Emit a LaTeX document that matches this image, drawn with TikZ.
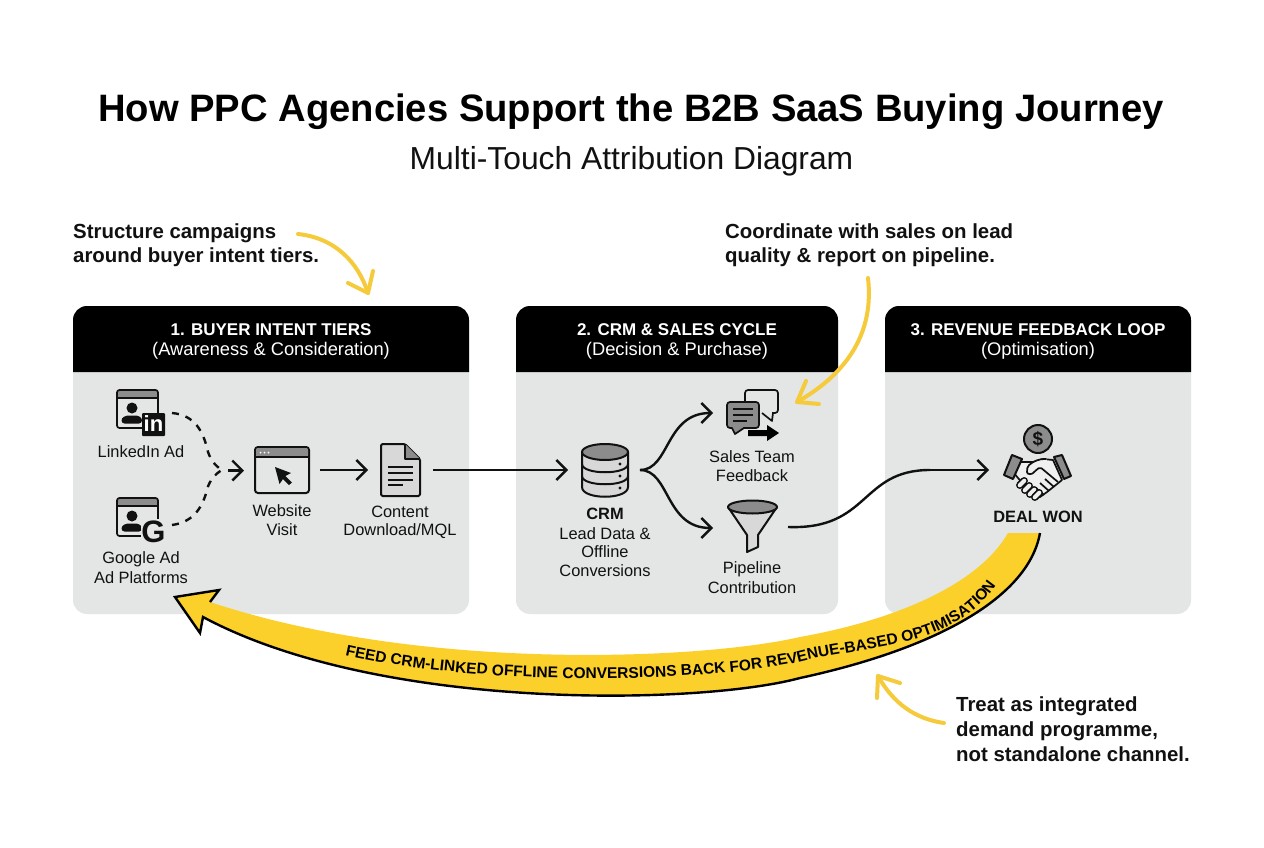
\documentclass[tikz,border=0pt]{standalone}
\usepackage{fontspec}
\setmainfont{Liberation Sans}
\usetikzlibrary{arrows.meta,decorations.text,calc}
\definecolor{panelgray}{HTML}{E4E5E5}
\definecolor{bandyellow}{HTML}{FBD02B}
\definecolor{noteyellow}{HTML}{F5CB3C}
\definecolor{icongray}{HTML}{8C8C8C}
\definecolor{iconlight}{HTML}{D8D8D8}
\definecolor{inkblack}{HTML}{111111}
\definecolor{handfill}{HTML}{F0F0F0}
\tikzset{
  fs/.style={font=\fontsize{#1}{#1}\selectfont},
  fsb/.style={font=\fontsize{#1}{#1}\selectfont\bfseries},
  panelbox/.style={fill=panelgray,rounded corners=14pt,inner sep=0pt},
  headbar/.style={fill=black,rounded corners=14pt},
  headone/.style={text=white,fsb=17,inner sep=0pt},
  headtwo/.style={text=white,fs=18.3,inner sep=0pt},
  lbl/.style={fs=16.4,text=inkblack,inner sep=0pt,align=center},
  note/.style={fsb=20.4,text=inkblack,inner sep=0pt,anchor=west},
  flow/.style={line width=2.4pt,inkblack,-{Straight Barb[length=10pt,width=20pt,line width=2.4pt]}},
  plain/.style={line width=2.4pt,inkblack},
  dashflow/.style={line width=2.4pt,inkblack,dash pattern=on 7pt off 7pt},
  noteflow/.style={line width=4pt,noteyellow,line cap=round,line join=round},
  icon/.style={line width=1.7pt,inkblack,line join=round},
}
\newcommand{\adwindow}[2]{%
  \begin{scope}[shift={(#1,#2)}]
    \fill[icongray,rounded corners=2pt] (0,0) rectangle (41,8);
    \draw[icon,rounded corners=2.5pt] (0,0) rectangle (41,38);
    \draw[icon] (0,8) -- (41,8);
    \fill[inkblack] (15,18) circle (5.5);
    \fill[inkblack,rounded corners=3pt] (4.5,33.5) .. controls (4.5,27) and (9,25.5) .. (15,25.5) .. controls (21,25.5) and (25,27) .. (25,33.5) -- cycle;
  \end{scope}}
\begin{document}
\begin{tikzpicture}[x=1pt,y=-1pt]
\useasboundingbox (0,0) rectangle (1264,848);
\fill[white] (0,0) rectangle (1264,848);
% title
\node[fsb=38.2,text=black,inner sep=0pt] (title) at (631,112) {How PPC Agencies Support the B2B SaaS Buying Journey};
\node[fs=31.8,text=inkblack,inner sep=0pt] (subtitle) at (631.5,161) {Multi-Touch Attribution Diagram};
% panels
\node[panelbox,minimum width=396pt,minimum height=308pt] (p1) at (271,460) {};
\node[panelbox,minimum width=322pt,minimum height=308pt] (p2) at (677,460) {};
\node[panelbox,minimum width=306pt,minimum height=308pt] (p3) at (1038,460) {};
\fill[headbar] (73,372) [rounded corners=14pt] -- (73,306) -- (469,306) [sharp corners] -- (469,372) -- cycle;
\fill[headbar] (516,372) [rounded corners=14pt] -- (516,306) -- (838,306) [sharp corners] -- (838,372) -- cycle;
\fill[headbar] (885,372) [rounded corners=14pt] -- (885,306) -- (1191,306) [sharp corners] -- (1191,372) -- cycle;
\node[headone] (h1a) at (271,330) {1. BUYER INTENT TIERS};
\node[headtwo] (h1b) at (271,351) {(Awareness \& Consideration)};
\node[headone] (h2a) at (677,330) {2. CRM \& SALES CYCLE};
\node[headtwo] (h2b) at (677,351) {(Decision \& Purchase)};
\node[headone] (h3a) at (1038,330) {3. REVENUE FEEDBACK LOOP};
\node[headtwo] (h3b) at (1038,351) {(Optimisation)};
% notes
\node[note,align=left] (n1) at (73,245) {Structure campaigns\\[4pt]around buyer intent tiers.};
\node[note,align=left] (n2) at (725,245) {Coordinate with sales on lead\\[4pt]quality \& report on pipeline.};
\node[note,align=left] (n3) at (956,729) {Treat as integrated\\[4.4pt]demand programme,\\[4.4pt]not standalone channel.};
% yellow band
\fill[bandyellow] (1040,533) .. controls (1028,600) and (930,650) .. (800,678) .. controls (700,705) and (380,712) .. (203,617)
  -- (200,633) -- (175,597) -- (219,590) -- (210,602)
  .. controls (420,672) and (700,660) .. (800,637) .. controls (895,620) and (978,585) .. (1008,533) -- cycle;
\draw[line width=2.4pt,black,line join=miter] (1040,533) .. controls (1028,600) and (930,650) .. (800,678) .. controls (700,705) and (380,712) .. (203,617)
  -- (200,633) -- (175,597) -- (219,590) -- (210,602);
\path[decorate,decoration={text along path,
   text={|\fontsize{15.5}{15.5}\selectfont\bfseries|FEED CRM-LINKED OFFLINE CONVERSIONS BACK FOR REVENUE-BASED OPTIMISATION}}]
   (345,655) .. controls (480,686) and (690,684) .. (800,662) .. controls (865,645) and (955,650) .. (998,582);
% note arrows
\coordinate (a1s) at (298,234); \coordinate (a1e) at (368,293);
\coordinate (a2s) at (868,278); \coordinate (a2e) at (797,402);
\coordinate (a3s) at (944,723); \coordinate (a3e) at (878,676);
\draw[noteflow] (a1s) .. controls (335,238) and (358,262) .. (a1e);
\draw[noteflow] (373,271) -- (a1e) -- (348,283);
\draw[noteflow] (a2s) .. controls (874,330) and (850,372) .. (a2e);
\draw[noteflow] (806,381) -- (a2e) -- (819,404);
\draw[noteflow] (a3s) .. controls (915,719) and (893,703) .. (a3e);
\draw[noteflow] (877,698) -- (a3e) -- (900,683);
% LinkedIn icon
\adwindow{117}{390}
\fill[inkblack,rounded corners=1pt] (142,413) rectangle (165,436);
\node[fsb=22,text=white,inner sep=0pt] (inbadge) at (153.5,424) {in};
\node[lbl] (l1) at (141,452) {LinkedIn Ad};
% Google icon
\adwindow{117}{498}
\fill[panelgray] (141,519) rectangle (168,545);
\node[fsb=31,text=inkblack,inner sep=0pt] (gbadge) at (153.5,532) {G};
\node[lbl] (l2a) at (141,559) {Google Ad};
\node[lbl] (l2b) at (141,578) {Ad Platforms};
% website icon
\draw[icon,line width=2pt,fill=panelgray,rounded corners=3pt] (255,447) rectangle (309,493);
\fill[icongray,rounded corners=2pt] (256,448) rectangle (308,457);
\draw[icon,line width=2pt] (255,457) -- (309,457);
\fill[white] (260.5,452.5) circle (1) (264.5,452.5) circle (1) (268.5,452.5) circle (1);
\fill[inkblack] (275,467) -- (291,473) -- (285.5,476) -- (292,482.5) -- (289,485) -- (283,479) -- (279.5,484) -- cycle;
\node[lbl] (l3a) at (282,511) {Website};
\node[lbl] (l3b) at (282,530) {Visit};
% document icon
\draw[icon,line width=2pt,fill=iconlight,rounded corners=1.5pt] (381,444) -- (405,444) -- (420,459) -- (420,496) -- (381,496) -- cycle;
\fill[icongray] (405,444) -- (420,459) -- (405,459) -- cycle;
\draw[icon] (405,444) -- (405,459) -- (420,459);
\draw[icon] (388,467) -- (413,467) (388,473) -- (413,473) (388,480) -- (413,480) (388,485) -- (403,485);
\node[lbl] (l4a) at (400,512) {Content};
\node[lbl] (l4b) at (400,531) {Download/MQL};
% database icon
\draw[icon,line width=2pt,fill=iconlight] (582,452) -- (582,487) .. controls (582,500) and (628,500) .. (628,487) -- (628,452) -- cycle;
\draw[icon,line width=2pt] (582,464) .. controls (582,475) and (628,475) .. (628,464);
\draw[icon,line width=2pt] (582,476) .. controls (582,487) and (628,487) .. (628,476);
\draw[icon,line width=2pt,fill=icongray] (605,452) ellipse (23 and 8);
\fill[inkblack] (620,464) circle (1.7) (620,476) circle (1.7) (620,488) circle (1.7);
\node[lbl,fsb=16.4] (l5) at (605,514) {CRM};
\node[lbl] (l5a) at (605,534) {Lead Data \&};
\node[lbl] (l5b) at (605,552) {Offline};
\node[lbl] (l5c) at (605,571) {Conversions};
% sales icon
\draw[icon,rounded corners=3pt] (745,402) -- (745,390) -- (778,390) -- (778,413) -- (772,413);
\draw[icon] (773,413) -- (772,421) -- (762,413);
\draw[icon,fill=icongray,rounded corners=3pt] (727,402) rectangle (759,428);
\fill[icongray] (732,426) -- (735,434) -- (745,426) -- cycle;
\draw[icon] (732,428) -- (735,434) -- (744,428);
\draw[line width=1.5pt,inkblack] (733,409) -- (753,409) (733,415) -- (753,415) (733,421) -- (747,421);
\fill[black] (748,430) -- (767,430) -- (767,425) -- (779,433) -- (767,441) -- (767,436) -- (748,436) -- cycle;
\node[lbl] (l6a) at (752,457) {Sales Team};
\node[lbl] (l6b) at (752,476) {Feedback};
% funnel icon
\draw[icon,line width=2pt,fill=iconlight] (728,507) -- (747,535) -- (747,552) -- (758,547) -- (758,535) -- (777,507) -- cycle;
\draw[icon,line width=2pt,fill=icongray] (752.5,507) ellipse (24.5 and 6.5);
\node[lbl] (l7a) at (752,569) {Pipeline};
\node[lbl] (l7b) at (752,588) {Contribution};
% handshake icon
\draw[icon,line width=2pt,fill=icongray] (1038,439) circle (14);
\node[fsb=19,text=inkblack,inner sep=0pt] (coin) at (1038,439) {\$};
\draw[icon,fill=handfill] (1020,462) -- (1033,462) -- (1043,459) -- (1053,460) -- (1062,480) -- (1047,492) -- (1040,497) -- (1034,497) -- (1013,472) -- cycle;
\draw[icon] (1054,487) -- (1045,479) (1049,491) -- (1040,483) (1044,495) -- (1036,488);
\draw[icon,fill=handfill,rounded corners=2pt] (1046,459) -- (1043,459) .. controls (1036,460) and (1028,464) .. (1027,470) .. controls (1027,475) and (1032,474) .. (1034,472) -- (1040,467) -- (1058,482);
\foreach \cx/\cy in {1022/483,1027/488,1032/492,1037/495}{
  \draw[line width=7.5pt,inkblack,line cap=round] (\cx-2.2,\cy+2.2) -- (\cx+2.2,\cy-2.2);
  \draw[line width=4.2pt,handfill,line cap=round] (\cx-2.2,\cy+2.2) -- (\cx+2.2,\cy-2.2);
}
\draw[icon,line width=2pt,fill=icongray] (1012,455) -- (1022,459) -- (1013,479) -- (1004,475) -- cycle;
\draw[icon,line width=2pt,fill=icongray] (1054,457) -- (1062,455) -- (1071,476) -- (1064,479) -- cycle;
\node[lbl,fsb=16.4] (l8) at (1038,517) {DEAL WON};
% connectors
\coordinate (li) at (172,413); \coordinate (gg) at (172,525); \coordinate (mg) at (222,470);
\coordinate (ma) at (228,470.5); \coordinate (wl) at (244,470.5); \coordinate (wr) at (320,470);
\coordinate (dl) at (368,470); \coordinate (dr) at (433,470); \coordinate (cl) at (568,470);
\coordinate (cr) at (640,470); \coordinate (st) at (713,413); \coordinate (fn) at (713,528);
\coordinate (fr) at (788,527); \coordinate (dw) at (989,470); \coordinate (dm) at (930,470);
\draw[dashflow] (li) .. controls (195,415) and (203,432) .. (207,448) .. controls (209,458) and (215,466) .. (mg);
\draw[dashflow] (gg) .. controls (195,522) and (203,505) .. (207,490) .. controls (209,481) and (215,474) .. (mg);
\draw[flow] (ma) -- (wl);
\draw[flow] (wr) -- (dl);
\draw[flow] (dr) -- (cl);
\draw[flow] (cr) .. controls (670,470) and (665,413) .. (st);
\draw[flow] (cr) .. controls (670,470) and (665,528) .. (fn);
\draw[plain] (fr) .. controls (870,530) and (860,470) .. (dm);
\draw[flow] (dm) -- (dw);
\end{tikzpicture}
\end{document}
